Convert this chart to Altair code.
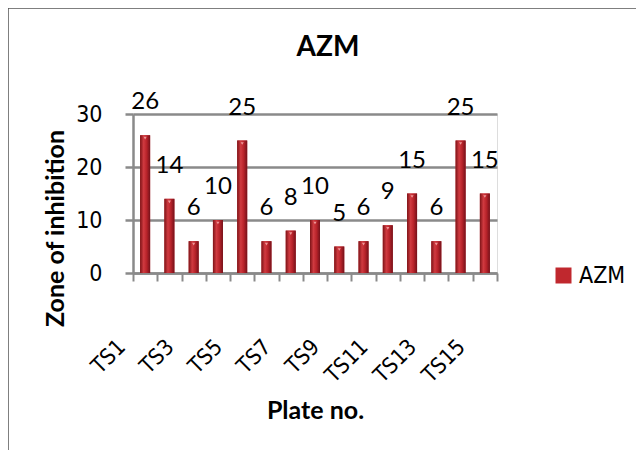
import altair as alt
import pandas as pd

plates = ["TS1", "TS2", "TS3", "TS4", "TS5", "TS6", "TS7", "TS8",
          "TS9", "TS10", "TS11", "TS12", "TS13", "TS14", "TS15"]
values = [26, 14, 6, 10, 25, 6, 8, 10, 5, 6, 9, 15, 6, 25, 15]
series = ["AZM"] * len(plates)
shown_labels = ["TS1", "TS3", "TS5", "TS7", "TS9", "TS11", "TS13", "TS15"]
y_ticks = [0, 10, 20, 30]

df = pd.DataFrame({"plate": plates, "value": values, "series": series})

NARROW = "DejaVu Sans Condensed, Liberation Sans Narrow, Lato, sans-serif"
BOLD = "Lato, sans-serif"
GRID = "#8a8a8a"

label_list = "[" + ",".join("'%s'" % s for s in shown_labels) + "]"

x_enc = alt.X(
    "plate:N", sort=plates,
    scale=alt.Scale(paddingInner=0, paddingOuter=0),
    axis=alt.Axis(
        title="Plate no.", grid=False, labelAngle=-45, labelAlign="right",
        labelBaseline="middle", labelOverlap=False,
        labelExpr="indexof(%s, datum.value) >= 0 ? datum.label : ''" % label_list,
        tickBand="extent", tickSize=8, tickWidth=2, tickColor=GRID,
        domainColor=GRID, domainWidth=2.5,
        labelPadding=62, labelOffset=-24, labelFont=NARROW, labelFontSize=22,
        labelColor="#000000",
        titleFont=BOLD, titleFontWeight="bold", titleFontSize=25,
        titleColor="#000000", titleX=182, titleY=137,
        titleAlign="center", titleBaseline="middle",
    ),
)

y_enc = alt.Y(
    "value:Q",
    scale=alt.Scale(domain=[0, 30], nice=False),
    axis=alt.Axis(
        title="Zone of inhibition", values=y_ticks, grid=True,
        gridColor=GRID, gridWidth=2.5, tickSize=8, tickWidth=2.5,
        tickColor=GRID, domainColor=GRID, domainWidth=2.5,
        labelPadding=23, labelFont=NARROW, labelFontSize=23,
        labelColor="#000000",
        titleFont=BOLD, titleFontWeight="bold", titleFontSize=25,
        titleColor="#000000", titleX=-78, titleY=114,
        titleAlign="center", titleBaseline="middle",
    ),
)

base = alt.Chart(df)

bars_legend = base.mark_bar(size=10).encode(
    x=x_enc, y=y_enc,
    color=alt.Color(
        "series:N",
        scale=alt.Scale(range=["#c0282e"]),
        legend=alt.Legend(
            orient="none", legendX=419, legendY=150, title=None,
            symbolType="square", symbolSize=256, symbolStrokeWidth=0,
            labelFont=NARROW, labelFontSize=23, labelColor="#000000",
            padding=0, labelOffset=4,
        ),
    ),
)

gradient = alt.LinearGradient(
    gradient="linear", x1=0, x2=1, y1=0, y2=0,
    stops=[
        alt.GradientStop(offset=0, color="#7d1317"),
        alt.GradientStop(offset=0.35, color="#d03a40"),
        alt.GradientStop(offset=0.65, color="#b8232a"),
        alt.GradientStop(offset=1, color="#74111a"),
    ],
)

bars_grad = base.mark_bar(size=10, color=gradient).encode(
    x=alt.X("plate:N", sort=plates), y="value:Q"
)

tips = base.mark_point(
    shape="triangle-down", filled=True, size=10, color="#f3a3a3",
    opacity=0.9, yOffset=3
).encode(x=alt.X("plate:N", sort=plates), y="value:Q")

labels = base.mark_text(
    dy=-33, baseline="middle", align="center",
    font="Lato", fontSize=24, color="#000000"
).encode(x=alt.X("plate:N", sort=plates), y="value:Q", text="value:Q")

frame_df = pd.DataFrame({"k": [0]})
frame_top = alt.Chart(frame_df).mark_rule(color="#555555", strokeWidth=1.5).encode(
    x=alt.value(-125), x2=alt.value(503), y=alt.value(-106)
)
frame_left = alt.Chart(frame_df).mark_rule(color="#555555", strokeWidth=1.5).encode(
    x=alt.value(-125), y=alt.value(-106), y2=alt.value(340)
)

chart = alt.layer(
    bars_legend, bars_grad, tips, labels, frame_top, frame_left
).properties(
    width=364, height=159,
    title=alt.TitleParams(
        "AZM", font=BOLD, fontSize=28, fontWeight="bold", color="#000000",
        anchor="middle", frame="group", dx=13, offset=-55,
    ),
    autosize=alt.AutoSizeParams(type="none"),
    padding={"left": 125, "top": 106, "right": 139, "bottom": 177},
).configure_view(stroke=None).configure(background="#ffffff")

chart.save("out.html", embed_options={"renderer": "svg", "actions": False})
